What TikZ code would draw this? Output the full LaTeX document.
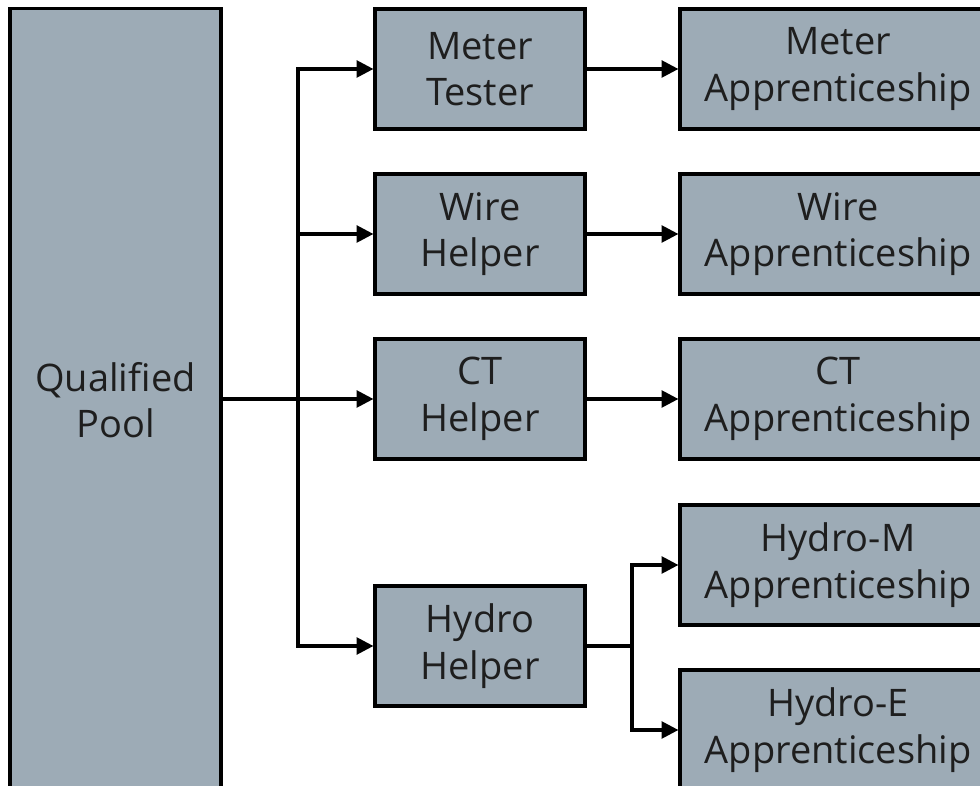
\documentclass[tikz,border=0pt]{standalone}
\usepackage{fontspec}
\setmainfont{Open Sans}
\usetikzlibrary{arrows.meta}
\definecolor{boxfill}{RGB}{157,171,182}
\definecolor{ink}{RGB}{30,30,30}
\begin{document}
\begin{tikzpicture}[x=0.025cm,y=-0.025cm,
  line width=2.2pt,
  box/.style={rectangle,draw,fill=boxfill,align=center,inner sep=0pt,text=ink,
    font=\fontsize{27}{33}\selectfont,minimum height=3cm},
  helper/.style={box,minimum width=5.25cm},
  trade/.style={box,minimum width=7.9cm},
  flow/.style={-{Triangle[length=0.42cm,width=0.42cm]}}]

  \useasboundingbox (0,0) rectangle (980,786);
  \clip (0,0) rectangle (980,786);

  % pool on the left
  \node[box,minimum width=5.275cm,minimum height=19.55cm] (pool) at (115.5,400){Qualified\\Pool};

  % first jobs
  \node[helper] (meter) at (480,69){Meter\\Tester};
  \node[helper] (wire) at (480,234){Wire\\Helper};
  \node[helper] (ct) at (480,399){CT\\Helper};
  \node[helper] (hydro) at (480,646){Hydro\\Helper};

  % apprenticeships
  \node[trade] (meterapp) at (838,69){Meter\\Apprenticeship};
  \node[trade] (wireapp) at (838,234){Wire\\Apprenticeship};
  \node[trade] (ctapp) at (838,399){CT\\Apprenticeship};
  \node[trade] (hydromapp) at (838,565){Hydro-M\\Apprenticeship};
  \node[trade] (hydroeapp) at (838,730){Hydro-E\\Apprenticeship};

  \coordinate (split) at (298,399);
  \coordinate (hsplit) at (632,646);

  \draw (pool.east |- split) -- (split);
  \draw[flow] (split) |- (meter.west);
  \draw[flow] (split) |- (wire.west);
  \draw[flow] (split) -- (ct.west);
  \draw[flow] (split) |- (hydro.west);

  \draw[flow] (meter) -- (meterapp);
  \draw[flow] (wire) -- (wireapp);
  \draw[flow] (ct) -- (ctapp);

  \draw (hydro.east) -- (hsplit);
  \draw[flow] (hsplit) |- (hydromapp.west);
  \draw[flow] (hsplit) |- (hydroeapp.west);
\end{tikzpicture}
\end{document}
